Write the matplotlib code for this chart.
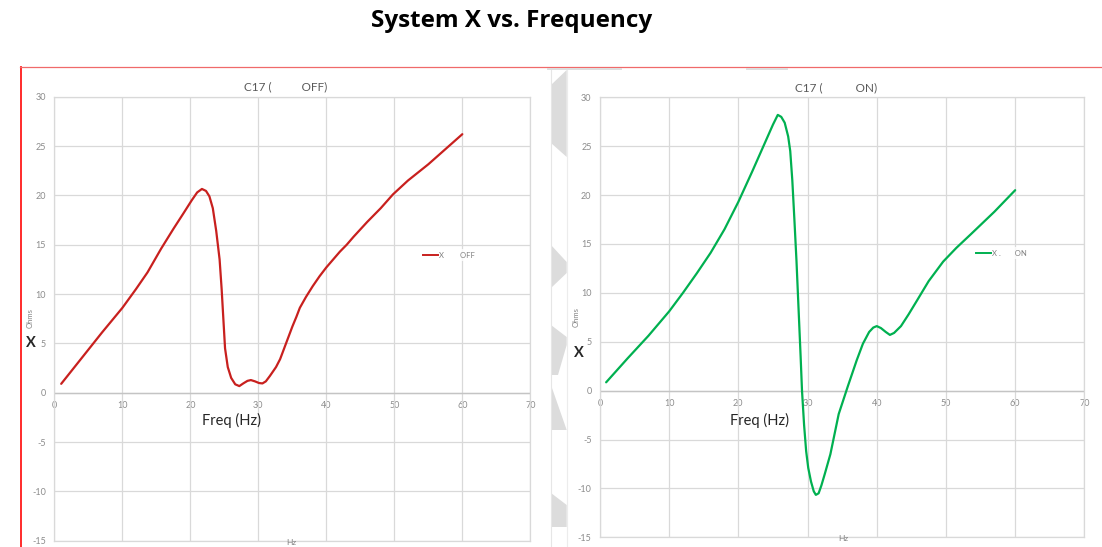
import matplotlib
matplotlib.use("Agg")
import matplotlib.pyplot as plt
from matplotlib.patches import Polygon
from matplotlib.lines import Line2D

plt.rcParams['font.family'] = ['Lato', 'DejaVu Sans']
plt.rcParams['axes.unicode_minus'] = False

# ---- data -------------------------------------------------------------
freq_off = [1.0, 4.0, 7.0, 10.0, 12.0, 13.7, 15.7, 17.5, 19.0, 20.2, 21.0, 21.7,
            22.3, 22.8, 23.3, 23.8, 24.3, 24.6, 24.85, 25.1, 25.5, 26.0, 26.6,
            27.2, 27.8, 28.4, 28.9, 29.5, 30.1, 30.6, 31.1, 31.7, 32.0, 32.6,
            33.2, 33.8, 34.4, 35.0, 35.6, 36.1, 37.0, 38.0, 39.0, 40.0, 41.0,
            42.0, 43.0, 44.0, 46.0, 48.0, 49.8, 52.0, 55.0, 60.0]
x_off = [0.9, 3.5, 6.1, 8.6, 10.5, 12.2, 14.6, 16.6, 18.2, 19.5, 20.3, 20.65,
         20.45, 19.9, 18.7, 16.4, 13.5, 10.5, 7.5, 4.5, 2.6, 1.5, 0.85,
         0.67, 0.95, 1.2, 1.28, 1.15, 0.98, 0.94, 1.15, 1.7, 2.0, 2.6,
         3.4, 4.5, 5.6, 6.7, 7.7, 8.6, 9.7, 10.8, 11.8, 12.7, 13.5,
         14.3, 15.0, 15.8, 17.3, 18.7, 20.1, 21.5, 23.15, 26.2]

freq_on = [0.9, 4.0, 7.0, 10.0, 12.0, 14.0, 16.0, 18.0, 20.0, 22.0, 24.0, 25.0,
           25.7, 26.2, 26.7, 27.2, 27.5, 27.8, 28.1, 28.4, 28.7, 29.0, 29.2,
           29.5, 29.8, 30.1, 30.5, 30.9, 31.2, 31.6, 32.0, 32.5, 33.3, 34.5,
           35.8, 37.1, 38.0, 38.9, 39.5, 40.0, 40.6, 41.3, 41.9, 42.5, 43.5,
           44.6, 45.8, 47.5, 49.6, 51.5, 53.6, 57.0, 60.0]
x_on = [0.85, 3.3, 5.6, 8.1, 10.0, 12.0, 14.1, 16.5, 19.3, 22.4, 25.6, 27.2,
        28.2, 28.0, 27.4, 26.0, 24.5, 21.5, 17.5, 13.3, 8.4, 3.5, 0.0,
        -3.5, -6.2, -7.9, -9.3, -10.3, -10.66, -10.5, -9.7, -8.5, -6.5, -2.4,
        0.4, 3.1, 4.8, 6.0, 6.45, 6.6, 6.4, 6.0, 5.7, 5.9, 6.6,
        7.8, 9.2, 11.2, 13.2, 14.6, 16.0, 18.3, 20.5]

x_ticks = [0, 10, 20, 30, 40, 50, 60, 70]
y_ticks = [-15, -10, -5, 0, 5, 10, 15, 20, 25, 30]

title_main = "System X vs. Frequency"
title_off = "C17 (          OFF)"
title_on = "C17 (           ON)"
legend_off = "X        OFF"
legend_on = "X .       ON"

# ---- figure ------------------------------------------------------------
W, H = 1102, 547
fig = plt.figure(figsize=(W / 100, H / 100), dpi=100)
fig.patch.set_facecolor('white')


def fx(px):
    return px / W


def fy(py):
    return 1 - py / H


GRID = '#d9d9d9'
TICK = '#8c8c8c'


def make_panel(left, right, top, bottom, fr, vals, color, title, title_xy,
               leg_label, leg_xy, freq_lbl_xy, x_xy, ohms_xy, hz_xy):
    ax = fig.add_axes([fx(left), fy(bottom), fx(right - left), (bottom - top) / H])
    ax.set_xlim(0, 70)
    ax.set_ylim(-15, 30)
    ax.set_xticks(x_ticks)
    ax.set_yticks(y_ticks)
    ax.grid(True, color=GRID, linewidth=0.9)
    ax.set_axisbelow(True)
    for s in ax.spines.values():
        s.set_color(GRID)
        s.set_linewidth(0.9)
    ax.tick_params(axis='x', length=0, labelbottom=False)
    ax.tick_params(axis='y', length=0, labelsize=6.5, labelcolor=TICK, pad=6)
    ax.axhline(0, color='#c4c4c4', linewidth=1.0, zorder=1)

    sec = ax.secondary_xaxis(1 / 3)
    sec.set_xticks(x_ticks)
    sec.tick_params(length=0, labelsize=6.5, labelcolor=TICK, pad=6)
    sec.spines['bottom'].set_visible(False)

    ax.plot(fr, vals, color=color, linewidth=1.6, solid_capstyle='round',
            solid_joinstyle='round', zorder=3)

    fig.text(fx(title_xy[0]), fy(title_xy[1]), title, ha='center', va='center',
             fontsize=8.5, color='#595959')
    leg = fig.legend([Line2D([], [], color=color, linewidth=1.4)], [leg_label],
                     loc='center left', bbox_to_anchor=(fx(leg_xy[0]), fy(leg_xy[1])),
                     frameon=True, facecolor='white', edgecolor='none', fancybox=False,
                     fontsize=5.5, handlelength=1.9, handletextpad=0.1,
                     borderpad=0.3, borderaxespad=0)
    for t in leg.get_texts():
        t.set_color('#808080')
    leg.set_zorder(5)

    fig.text(fx(freq_lbl_xy[0]), fy(freq_lbl_xy[1]), 'Freq (Hz)', ha='center',
             va='center', fontsize=10.5, color='#262626')
    fig.text(fx(x_xy[0]), fy(x_xy[1]), 'X', ha='center', va='center',
             fontsize=10.5, fontweight='bold', color='#262626')
    fig.text(fx(ohms_xy[0]), fy(ohms_xy[1]), 'Ohms', ha='center', va='center',
             fontsize=5.5, rotation=90, color='#808080')
    fig.text(fx(hz_xy[0]), fy(hz_xy[1]), 'Hz', ha='center', va='top',
             fontsize=6, color='#808080')
    return ax


make_panel(54.4, 530.3, 96.7, 540.7, freq_off, x_off, '#c8201e', title_off,
           (286, 87), legend_off, (421, 255), (232, 420), (30.5, 343),
           (30.5, 318), (291, 539))
make_panel(599.9, 1084.4, 97.3, 537.3, freq_on, x_on, '#00b050', title_on,
           (836, 88), legend_on, (974, 253), (760, 420), (578.5, 353),
           (576, 317), (843, 535))

# main heading
fig.text(fx(512), fy(21), title_main, ha='center', va='center', fontsize=17.5,
         fontweight='bold', color='black', family=['Open Sans', 'DejaVu Sans'])

# slide frame lines and decorations
overlay = fig.add_axes([0, 0, 1, 1], facecolor='none')
overlay.set_xlim(0, W)
overlay.set_ylim(H, 0)
overlay.axis('off')
overlay.plot([20.5, 20.5], [67, H], color='#ff1a1a', linewidth=1.3)
overlay.plot([20, W], [67.3, 67.3], color='#f06a6a', linewidth=0.9)
overlay.plot([548, 621], [69, 69], color='#dedede', linewidth=1.4)
overlay.plot([747, 787], [69, 69], color='#dedede', linewidth=1.4)
overlay.plot([551, 551], [70, H], color='#e6e6e6', linewidth=0.8)
overlay.plot([566.7, 566.7], [70, H], color='#ececec', linewidth=0.8)
chevrons = [
    [(551, 85), (566.7, 70), (566.7, 157), (551, 143)],
    [(551, 245), (566.7, 262), (566.7, 273), (551, 288)],
    [(551, 325), (566.7, 337), (566.7, 345), (558, 375), (551, 375)],
    [(551, 385), (566.7, 430), (551, 430)],
    [(551, 493), (566.7, 505), (566.7, 527), (551, 527)],
]
for pts in chevrons:
    overlay.add_patch(Polygon(pts, closed=True, facecolor='#dcdcdc',
                              edgecolor='none'))

fig.savefig('out.png', dpi=100)
